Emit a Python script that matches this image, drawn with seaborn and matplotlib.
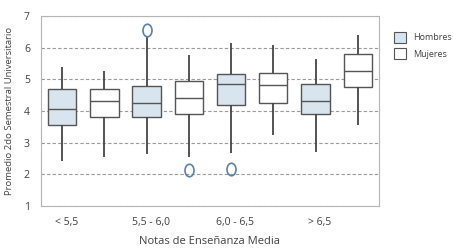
#Boxplot - Promedio 2do Semestral Universitario por Notas de Enseñanza Media

#Imports
import pandas as pd
import matplotlib
matplotlib.use('Agg')
import matplotlib.pyplot as plt
import matplotlib.path as mpath
import matplotlib.transforms as mtransforms
from matplotlib.patches import Patch
import seaborn as sns

#Datos: bigote inf, Q1, mediana, Q3, bigote sup, atípico
categorias = ['< 5,5', '5,5 - 6,0', '6,0 - 6,5', '> 6,5']
sexos = ['Hombres', 'Mujeres']

hombres_min = [2.41, 2.63, 2.67, 2.71]
hombres_q1 = [3.56, 3.82, 4.19, 3.92]
hombres_med = [4.05, 4.24, 4.85, 4.33]
hombres_q3 = [4.71, 4.80, 5.17, 4.84]
hombres_max = [5.39, 6.35, 6.16, 5.64]
hombres_atip = [None, 6.55, 2.17, None]

mujeres_min = [2.55, 2.55, 3.24, 3.56]
mujeres_q1 = [3.80, 3.91, 4.26, 4.76]
mujeres_med = [4.32, 4.41, 4.82, 5.26]
mujeres_q3 = [4.71, 4.96, 5.21, 5.79]
mujeres_max = [5.25, 5.78, 6.09, 6.40]
mujeres_atip = [None, 2.15, None, None]

#Construye puntos que reproducen cada resumen de cinco números
filas = []
resumen = {'Hombres': (hombres_min, hombres_q1, hombres_med, hombres_q3, hombres_max, hombres_atip),
           'Mujeres': (mujeres_min, mujeres_q1, mujeres_med, mujeres_q3, mujeres_max, mujeres_atip)}
for sexo in sexos:
    mn, q1, med, q3, mx, atip = resumen[sexo]
    for i, cat in enumerate(categorias):
        vals = [mn[i], mn[i], q1[i], q1[i], med[i], med[i], q3[i], q3[i], mx[i], mx[i]]
        if atip[i] is not None:
            if atip[i] < med[i]:
                vals[0] = atip[i]
            else:
                vals[-1] = atip[i]
        for v in vals:
            filas.append({'Notas': cat, 'Sexo': sexo, 'Promedio': v})
df = pd.DataFrame(filas)

#Estilo
sns.set_style('white')
plt.rcParams['font.family'] = ['Open Sans', 'DejaVu Sans']
gris = '#555555'
texto = '#404040'

#Marcador ovalado para los atípicos
ovalo = mpath.Path.unit_circle().transformed(mtransforms.Affine2D().scale(0.72, 1.0))

fig = plt.figure(figsize = (4.53, 2.52), dpi = 100)
ax = fig.add_axes([0.0905, 0.1825, 0.746, 0.754])

sns.boxplot(data = df, x = 'Notas', y = 'Promedio', hue = 'Sexo', order = categorias,
            hue_order = sexos, palette = {'Hombres': '#d4e5f2', 'Mujeres': 'white'},
            width = 1.0, gap = 0.33, whis = 1.65, linewidth = 1.0, linecolor = gris,
            showcaps = False, whiskerprops = dict(linewidth = 1.3, color = '#454545'),
            flierprops = dict(marker = ovalo, markersize = 9, markerfacecolor = 'none',
                              markeredgecolor = '#5b82a6', markeredgewidth = 1.2),
            legend = False, ax = ax, zorder = 3)

#Grid
ax.set_ylim(1, 7)
ax.set_xlim(-0.5, 3.5)
ax.set_yticks(range(1, 8))
ax.yaxis.grid(True, linestyle = (0, (3, 2)), color = '#9a9a9a', linewidth = 0.8)
ax.set_axisbelow(True)
for s in ax.spines.values():
    s.set_color('#b5b5b5')
    s.set_linewidth(0.8)

ax.set_xticks([i - 0.2 for i in range(len(categorias))])
ax.set_xticklabels(categorias)
ax.tick_params(axis = 'both', length = 0, labelsize = 7.5, colors = texto, pad = 8)
ax.set_xlabel('Notas de Enseñanza Media', fontsize = 8, color = texto, labelpad = 6)
ax.set_ylabel('Promedio 2do Semestral Universitario', fontsize = 6.8, color = texto, labelpad = 7)

#Leyenda
handles = [Patch(facecolor = '#d4e5f2', edgecolor = gris, linewidth = 0.8, label = 'Hombres'),
           Patch(facecolor = 'white', edgecolor = gris, linewidth = 0.8, label = 'Mujeres')]
leg = ax.legend(handles = handles, loc = 'upper left', bbox_to_anchor = (1.02, 0.96),
                frameon = False, fontsize = 6.5, handlelength = 1.3, handleheight = 1.5,
                labelspacing = 0.6, handletextpad = 0.8, labelcolor = texto)

plt.savefig('out.png', dpi = 100)
